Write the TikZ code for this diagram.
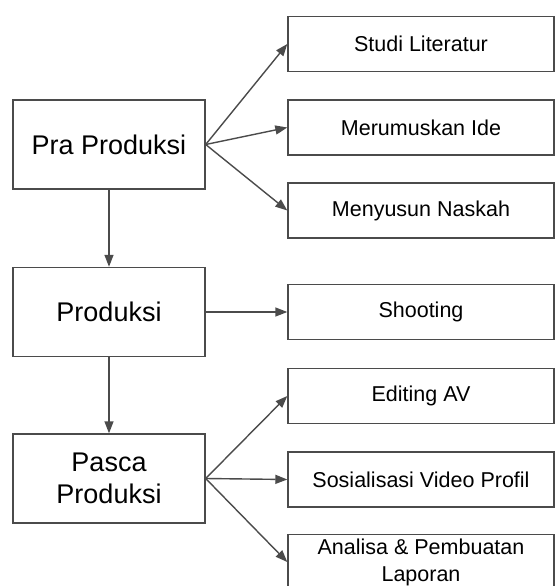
\documentclass[tikz,border=0pt]{standalone}
\usepackage{fontspec}
\setmainfont{Liberation Sans}
\usetikzlibrary{arrows.meta}
\definecolor{edge}{RGB}{75,75,75}

\begin{document}
\begin{tikzpicture}[%
        x=1pt, y=-1pt,
        basic/.style ={draw=edge, line width=1.4pt, fill=white, align=center, inner sep=0pt},
        stage/.style={basic, minimum width=192pt, minimum height=89pt, font=\fontsize{27}{32}\selectfont},
        task/.style={basic, minimum width=266pt, minimum height=55pt, font=\fontsize{21.5}{27}\selectfont},
        dep/.style={-{Triangle[length=12pt,width=9pt]}, draw=edge, line width=1.4pt}
        ]
        \useasboundingbox (0,0) rectangle (555,586);
        \clip (0,0) rectangle (555,586);
        \node[stage] (pra) at (109,144.5) {Pra Produksi};
        \node[stage] (pro) at (109,312) {Produksi};
        \node[stage] (pas) at (109,478.5) {Pasca\\Produksi};
        \node[task] (stu) at (421,44) {Studi Literatur};
        \node[task] (ide) at (421,127.5) {Merumuskan Ide};
        \node[task] (nsk) at (421,210.5) {Menyusun Naskah};
        \node[task] (sht) at (421,312) {Shooting};
        \node[task] (edt) at (421,396) {Editing AV};
        \node[task] (sos) at (421,479.5) {Sosialisasi Video Profil};
        \node[task] (ana) at (421,562) {Analisa \& Pembuatan\\Laporan};
        \draw[dep] (pra.east) -- (stu.west);
        \draw[dep] (pra.east) -- (ide.west);
        \draw[dep] (pra.east) -- (nsk.west);
        \draw[dep] (pra.south) -- (pro.north);
        \draw[dep] (pro.east) -- (sht.west);
        \draw[dep] (pro.south) -- (pas.north);
        \draw[dep] (pas.east) -- (edt.west);
        \draw[dep] (pas.east) -- (sos.west);
        \draw[dep] (pas.east) -- (ana.west);
    \end{tikzpicture}
\end{document}
